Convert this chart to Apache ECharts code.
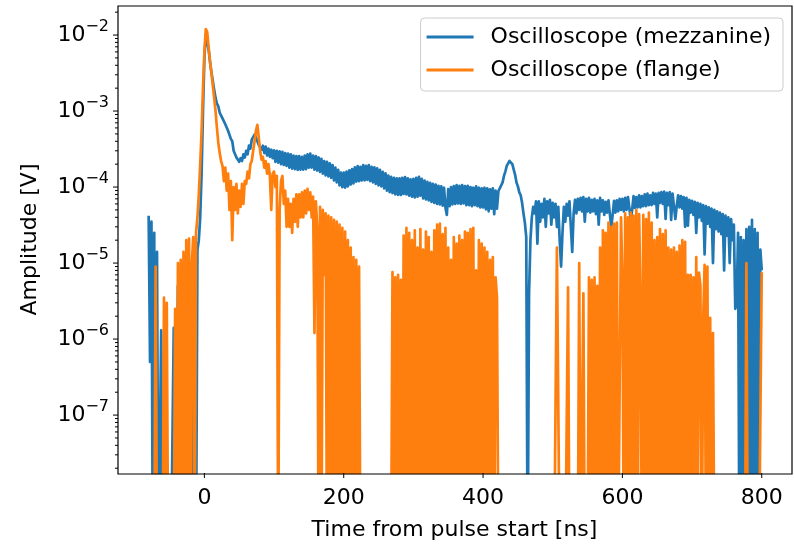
<!DOCTYPE html>
<html>
<head>
<meta charset="utf-8">
<title>Oscilloscope amplitude vs time</title>
<script src="https://cdn.jsdelivr.net/npm/echarts@6/dist/echarts.min.js"></script>
<style>
  html, body { margin: 0; padding: 0; background: #fff; }
  #chart { width: 794px; height: 546px; }
</style>
</head>
<body>
<div id="chart"></div>
<script>
// Sampling grid of both traces (ns)
const T_START = -80;
const T_STEP = 2;

// Amplitude below the visible floor (trace drops out of the log axis)
const Z = 1e-9;

// Oscilloscope trace, mezzanine pickup [V], one value per 2 ns from -80 ns
const mezzanine = [
  4.2e-5, 5e-7, 3.5e-5, Z, 2.5e-5, Z, 1.4e-5, Z, Z, 1.3e-6,
  Z, Z, Z, Z, Z, Z, Z, Z, 1.4e-6, Z,
  Z, 5e-6, Z, 3e-6, Z, 4e-6, Z, 6e-6, Z, 8e-6,
  Z, 1e-5, Z, 1.2e-5, Z, 1.5e-5, 2e-5, 4e-5, 1.5e-4, 1e-3,
  5e-3, 1e-2, 9.5e-3, 6.5e-3, 4.5e-3, 3.3e-3, 2.5e-3, 1.9e-3, 1.5e-3, 1.25e-3,
  1.15e-3, 9.5e-4, 9.6e-4, 8e-4, 8.2e-4, 6.7e-4, 6.8e-4, 5.5e-4, 5.5e-4, 4.3e-4,
  4e-4, 3e-4, 3e-4, 2.45e-4, 2.6e-4, 2.15e-4, 2.4e-4, 2.2e-4, 2.7e-4, 2.45e-4,
  3e-4, 2.7e-4, 3.5e-4, 3.2e-4, 4.2e-4, 4e-4, 4.9e-4, 4.5e-4, 4.5e-4, 3.6e-4,
  3.8e-4, 3.1e-4, 3.5e-4, 2.8e-4, 3.4e-4, 2.6e-4, 3.2e-4, 2.5e-4, 3.1e-4, 2.4e-4,
  3.05e-4, 2.15e-4, 3e-4, 2.1e-4, 2.95e-4, 2e-4, 2.9e-4, 1.95e-4, 2.8e-4, 1.9e-4,
  2.75e-4, 1.8e-4, 2.7e-4, 1.75e-4, 2.6e-4, 1.72e-4, 2.55e-4, 1.68e-4, 2.55e-4, 1.7e-4,
  2.5e-4, 1.7e-4, 2.6e-4, 1.72e-4, 2.7e-4, 1.8e-4, 2.75e-4, 1.8e-4, 2.6e-4, 1.7e-4,
  2.55e-4, 1.65e-4, 2.45e-4, 1.58e-4, 2.35e-4, 1.5e-4, 2.2e-4, 1.42e-4, 2.15e-4, 1.38e-4,
  2.05e-4, 1.32e-4, 1.95e-4, 1.22e-4, 1.8e-4, 1.15e-4, 1.68e-4, 1.05e-4, 1.55e-4, 1e-4,
  1.55e-4, 9.8e-5, 1.6e-4, 1.02e-4, 1.66e-4, 1.08e-4, 1.72e-4, 1.12e-4, 1.82e-4, 1.18e-4,
  1.88e-4, 1.2e-4, 1.85e-4, 1.22e-4, 1.95e-4, 1.22e-4, 1.9e-4, 1.24e-4, 1.95e-4, 1.2e-4,
  1.85e-4, 1.15e-4, 1.82e-4, 1.1e-4, 1.76e-4, 1.05e-4, 1.68e-4, 1.02e-4, 1.58e-4, 9.6e-5,
  1.52e-4, 9e-5, 1.42e-4, 8.6e-5, 1.36e-4, 8.3e-5, 1.32e-4, 8e-5, 1.3e-4, 7.9e-5,
  1.3e-4, 7.9e-5, 1.32e-4, 8.1e-5, 1.35e-4, 8e-5, 1.3e-4, 7.7e-5, 1.26e-4, 7.5e-5,
  1.28e-4, 7.3e-5, 1.32e-4, 7.5e-5, 1.36e-4, 7.7e-5, 1.28e-4, 7.1e-5, 1.22e-4, 6.9e-5,
  1.17e-4, 6.7e-5, 1.14e-4, 6.4e-5, 1.1e-4, 6.2e-5, 1.08e-4, 6e-5, 1.04e-4, 5.9e-5,
  1.02e-4, 5.7e-5, 9.8e-5, 5.4e-5, 4.3e-5, 9.4e-5, 5.6e-5, 1e-4, 5.9e-5, 1.03e-4,
  6e-5, 1.06e-4, 6.1e-5, 1.04e-4, 6e-5, 1.06e-4, 6.1e-5, 1.03e-4, 5.8e-5, 1.04e-4,
  5.8e-5, 1e-4, 5.6e-5, 9.8e-5, 5.8e-5, 1.02e-4, 5.6e-5, 9.8e-5, 5.4e-5, 9.6e-5,
  5.4e-5, 9.8e-5, 5.1e-5, 9.6e-5, 4.8e-5, 9.3e-5, 5.2e-5, 9.6e-5, 4.4e-5, 9e-5,
  5.2e-5, 8.8e-5, 8.5e-5, 1.05e-4, 1.15e-4, 1.4e-4, 1.6e-4, 1.9e-4, 2.05e-4, 2.2e-4,
  2.1e-4, 2e-4, 1.7e-4, 1.45e-4, 1.15e-4, 1.02e-4, 8.5e-5, 7.8e-5, 6.2e-5, 4.5e-5,
  3.4e-5, 2.2e-5, Z, 4e-6, 2e-5, 4e-5, 5.5e-5, 4.5e-5, 6.5e-5, 1.8e-5,
  6.5e-5, 3.5e-5, 6e-5, 4e-5, 7e-5, 3e-5, 6.5e-5, 4.5e-5, 6.8e-5, 3.2e-5,
  6.2e-5, 4e-5, 6e-5, 3e-5, 5.5e-5, 2e-5, 9e-6, 2.5e-5, 5.5e-5, 3.5e-5,
  6e-5, 4.2e-5, 6.5e-5, 3e-5, 1.4e-5, 4.5e-5, 6.8e-5, 4.5e-5, 7e-5, 5e-5,
  7.2e-5, 4.8e-5, 7.4e-5, 3.5e-5, 7e-5, 4.8e-5, 7.2e-5, 4.6e-5, 6.8e-5, 4.8e-5,
  7e-5, 4.4e-5, 6.7e-5, 3.2e-5, 7.2e-5, 4.8e-5, 6.7e-5, 4.3e-5, 6.4e-5, 4.6e-5,
  6.7e-5, 4.4e-5, 3e-5, 4.3e-5, 6.6e-5, 4.6e-5, 6.7e-5, 4.8e-5, 7e-5, 5e-5,
  7e-5, 4.8e-5, 7.2e-5, 5e-5, 7.4e-5, 5.3e-5, 3.6e-5, 5e-5, 7.6e-5, 5.3e-5,
  7.4e-5, 5.4e-5, 7.8e-5, 5.4e-5, 7.6e-5, 5.6e-5, 8e-5, 5.6e-5, 8.2e-5, 5.8e-5,
  7.8e-5, 5.8e-5, 8.4e-5, 6e-5, 8.2e-5, 4e-5, 8.4e-5, 6.2e-5, 8.6e-5, 6e-5,
  8.7e-5, 3.8e-5, 8.4e-5, 5.8e-5, 8.6e-5, 3.7e-5, 8.2e-5, 5.6e-5, 3.8e-5, 5.6e-5,
  7.8e-5, 5.4e-5, 7.6e-5, 5.2e-5, 7.4e-5, 3e-5, 7.2e-5, 3.1e-5, 6.8e-5, 4.6e-5,
  6.6e-5, 4.3e-5, 6.4e-5, 2.5e-5, 6.2e-5, 4e-5, 6e-5, 3.6e-5, 5.8e-5, 1.3e-5,
  5.6e-5, 3.3e-5, 5.4e-5, 3e-5, 5.2e-5, 1e-5, 5e-5, 2.8e-5, 4.8e-5, 2.6e-5,
  4.6e-5, 2.4e-5, 4.4e-5, 8e-6, 4.2e-5, 2.3e-5, 4e-5, 1e-5, 3.8e-5, 2e-5,
  3.2e-5, 2.5e-6, 3e-6, 2.5e-5, Z, 2.2e-5, Z, 2e-5, Z, 2.8e-5,
  Z, 3e-5, Z, 3.7e-5, Z, 2.8e-5, Z, 2.5e-5, Z, 1.5e-5,
  8e-6
];

// Oscilloscope trace, flange pickup [V], same sampling grid
const flange = [
  Z, Z, Z, Z, Z, 9e-6, Z, Z, Z, Z,
  Z, 3.5e-6, Z, 3e-6, Z, Z, Z, Z, Z, 2.5e-6,
  Z, 1e-5, Z, 1.1e-5, Z, 1.4e-5, Z, 2e-5, Z, 2.1e-5,
  Z, 1e-5, 2.2e-5, Z, 2.5e-5, 4e-5, 8e-5, 2e-4, 5.5e-4, 2e-3,
  6e-3, 1.2e-2, 1.1e-2, 7e-3, 4.5e-3, 3.2e-3, 2.2e-3, 1.5e-3, 1e-3, 6e-4,
  3.8e-4, 2.8e-4, 2.2e-4, 1.9e-4, 1.2e-4, 1.8e-4, 9e-5, 1.5e-4, 5e-5, 1.2e-4,
  2e-5, 1e-4, 5e-5, 1.1e-4, 4.5e-5, 9e-5, 5.5e-5, 1.1e-4, 6e-5, 1.2e-4,
  1.1e-4, 1.6e-4, 1.3e-4, 2e-4, 2.2e-4, 3e-4, 4e-4, 5.5e-4, 6.6e-4, 4.5e-4,
  3e-4, 2.3e-4, 2.5e-4, 1.8e-4, 2.2e-4, 1.5e-4, 2e-4, 1.4e-4, 5e-5, 1.5e-4,
  1.6e-4, 1e-4, 1.4e-4, Z, 5e-5, 1.2e-4, 1.4e-4, 6e-5, 9e-5, 3e-5,
  7e-5, 3e-5, 6e-5, 2.5e-5, 7e-5, 3.5e-5, 8e-5, 3e-5, 8e-5, 4e-5,
  8.5e-5, 4e-5, 9e-5, 4.5e-5, 9.5e-5, 5e-5, 8.5e-5, 4e-5, 7.5e-5, 1.2e-6,
  6.5e-5, 3e-5, Z, 5.5e-5, Z, 5e-5, 7e-6, 4.5e-5, Z, 4.2e-5,
  Z, 4e-5, Z, 3.7e-5, Z, 3.5e-5, Z, 3.2e-5, Z, 2.9e-5,
  Z, 2.6e-5, Z, 2e-5, Z, 1.6e-5, Z, 1.2e-5, Z, 1.1e-5,
  Z, 9e-6, Z, Z, Z, Z, Z, Z, Z, Z,
  Z, Z, Z, Z, Z, Z, Z, Z, Z, Z,
  Z, Z, Z, Z, Z, 7.6e-6, Z, 6.5e-6, Z, 7e-6,
  Z, 6e-6, Z, 2.3e-5, Z, 2.9e-5, Z, 2.5e-5, Z, 2e-5,
  Z, 2.7e-5, Z, 1.6e-5, Z, 2.8e-5, Z, 1.5e-5, Z, 2.6e-5,
  Z, 2.2e-5, Z, 1.4e-5, Z, 2.7e-5, Z, 3.2e-5, Z, 3.3e-5,
  Z, 2.4e-5, Z, 2.9e-5, Z, 1.6e-5, Z, 1.1e-5, Z, 2.2e-5,
  Z, 1.8e-5, Z, 2.3e-5, Z, 2e-5, Z, 2.6e-5, Z, 2.5e-5,
  Z, 2.8e-5, Z, 2.9e-5, Z, 8e-6, Z, 2e-5, Z, 1.8e-5,
  Z, 1.6e-5, Z, 1.4e-5, Z, 1.1e-5, Z, 1.2e-5, Z, 6.5e-6,
  3.5e-6, Z, Z, Z, Z, Z, Z, Z, Z, Z,
  Z, Z, Z, Z, Z, Z, Z, Z, Z, Z,
  Z, Z, Z, Z, Z, Z, Z, Z, Z, Z,
  Z, Z, Z, Z, Z, Z, Z, Z, Z, Z,
  Z, Z, Z, 1.6e-5, 1.2e-7, Z, Z, Z, Z, Z,
  Z, 4.8e-6, Z, Z, Z, Z, Z, Z, Z, 1e-5,
  Z, Z, 4e-6, Z, Z, Z, 6.5e-6, Z, 6e-6, Z,
  6.5e-6, Z, 5e-6, Z, 1.6e-5, Z, 2.7e-5, Z, 2.5e-5, Z,
  3.4e-5, Z, 3e-5, Z, 3.3e-5, Z, 3.4e-5, Z, Z, 4e-5,
  7e-6, Z, 4.5e-5, Z, 4e-5, Z, 4.6e-5, Z, 4.2e-5, Z,
  5e-5, Z, 4.4e-5, 3.5e-6, Z, 4.3e-5, Z, 3.8e-5, Z, 4.6e-5,
  Z, 3.4e-5, Z, 2e-5, Z, 2.2e-5, Z, 2.8e-5, Z, 2.4e-5,
  Z, 2.7e-5, Z, 1.6e-5, Z, 1.5e-5, Z, 1.6e-5, Z, 1.4e-5,
  Z, 1.7e-5, Z, 2e-5, Z, 1.9e-5, Z, 7e-6, Z, 7e-6,
  Z, 6.5e-6, Z, 1.2e-5, Z, 7.5e-6, 5e-6, Z, 1.9e-6, 9.5e-6,
  Z, 9e-6, Z, 1.9e-6, Z, 1.2e-6, Z, Z, Z, Z,
  Z, Z, Z, Z, Z, Z, Z, Z, Z, Z,
  Z, Z, Z, Z, Z, Z, Z, Z, Z, 1e-5,
  Z, Z, Z, Z, Z, Z, Z, Z, Z, Z,
  7.6e-6
];

const seriesNames = ['Oscilloscope (mezzanine)', 'Oscilloscope (flange)'];
const seriesColors = ['#1f77b4', '#ff7f0e'];

// Axis ranges and tick labels
const X_MIN = -124, X_MAX = 842;
const Y_MIN = 1.73e-8, Y_MAX = 0.0241;
const xTickValues = [0, 200, 400, 600, 800];
const yTickValues = [1e-7, 1e-6, 1e-5, 1e-4, 1e-3, 1e-2];

const FONT = 'DejaVu Sans';
const LINE_WIDTH = 2.7;

function toPairs(values) {
  return values.map((v, i) => [T_START + i * T_STEP, v]);
}

// Tick marks: major decades plus 2..9 minor marks on the log axis
const yTickMarks = [];
for (let d = -9; d <= -1; d++) {
  for (let k = 1; k <= 9; k++) {
    const v = k * Math.pow(10, d);
    if (v >= Y_MIN && v <= Y_MAX) yTickMarks.push([X_MIN, v, k === 1 ? 1 : 0]);
  }
}
const xTickMarks = xTickValues.map(t => [t, Y_MIN, 1]);

function isDecade(v) {
  const e = Math.log10(v);
  return Math.abs(e - Math.round(e)) < 1e-6;
}

const chart = echarts.init(document.getElementById('chart'), null, { renderer: 'canvas' });

chart.setOption({
  animation: false,
  backgroundColor: '#ffffff',
  textStyle: { fontFamily: FONT, color: '#000' },
  grid: { left: 118, top: 6, right: 2, bottom: 72, containLabel: false },
  legend: {
    data: seriesNames,
    orient: 'vertical',
    right: 11,
    top: 18,
    padding: [8, 12, 10, 6],
    itemGap: 11,
    itemWidth: 47,
    itemHeight: 3,
    icon: 'rect',
    backgroundColor: 'rgba(255,255,255,0.8)',
    borderColor: '#cccccc',
    borderWidth: 1,
    borderRadius: 4,
    textStyle: { fontFamily: FONT, fontSize: 22, color: '#000', lineHeight: 22, padding: [0, 0, 0, 12] }
  },
  xAxis: {
    type: 'value',
    min: X_MIN,
    max: X_MAX,
    name: 'Time from pulse start [ns]',
    nameLocation: 'middle',
    nameGap: 46,
    nameTextStyle: { fontFamily: FONT, fontSize: 22, color: '#000' },
    axisLine: { show: false },
    axisTick: { show: false },
    splitLine: { show: false },
    axisLabel: {
      fontFamily: FONT, fontSize: 22, color: '#000', margin: 14,
      formatter: v => (xTickValues.indexOf(v) >= 0 ? String(v) : '')
    }
  },
  yAxis: {
    type: 'log',
    logBase: 10,
    min: Y_MIN,
    max: Y_MAX,
    name: 'Amplitude [V]',
    nameLocation: 'middle',
    nameGap: 77,
    nameTextStyle: { fontFamily: FONT, fontSize: 22, color: '#000' },
    axisLine: { show: false },
    axisTick: { show: false },
    splitLine: { show: false },
    axisLabel: {
      fontFamily: FONT, fontSize: 22, color: '#000', margin: 9,
      formatter: function (v) {
        if (!isDecade(v)) return '';
        const k = Math.round(Math.log10(v));
        const shown = yTickValues.some(t => Math.abs(Math.log10(t) - k) < 1e-6);
        if (!shown) return '';
        return '10{e|\u2212' + Math.abs(k) + '}';
      },
      rich: {
        e: { fontFamily: FONT, fontSize: 16, color: '#000', padding: [0, 0, 16, 0] }
      }
    }
  },
  series: [
    {
      name: seriesNames[0],
      type: 'line',
      data: toPairs(mezzanine),
      showSymbol: false,
      symbol: 'none',
      sampling: null,
      color: seriesColors[0],
      lineStyle: { width: LINE_WIDTH, color: seriesColors[0], join: 'round', cap: 'butt' },
      z: 2
    },
    {
      name: seriesNames[1],
      type: 'line',
      data: toPairs(flange),
      showSymbol: false,
      symbol: 'none',
      sampling: null,
      color: seriesColors[1],
      lineStyle: { width: LINE_WIDTH, color: seriesColors[1], join: 'round', cap: 'butt' },
      z: 3
    },
    {
      type: 'custom',
      silent: true,
      clip: false,
      data: yTickMarks,
      renderItem: function (params, api) {
        const p = api.coord([api.value(0), api.value(1)]);
        const len = api.value(2) ? 5 : 3;
        return {
          type: 'line',
          shape: { x1: p[0] - len, y1: p[1], x2: p[0], y2: p[1] },
          style: { stroke: '#000', lineWidth: 1 }
        };
      },
      z: 10
    },
    {
      type: 'custom',
      silent: true,
      clip: false,
      data: xTickMarks,
      renderItem: function (params, api) {
        const p = api.coord([api.value(0), api.value(1)]);
        return {
          type: 'line',
          shape: { x1: p[0], y1: p[1], x2: p[0], y2: p[1] + 5 },
          style: { stroke: '#000', lineWidth: 1 }
        };
      },
      z: 10
    }
  ],
  graphic: [
    {
      type: 'rect',
      silent: true,
      z: 100,
      shape: { x: 118, y: 6, width: 674, height: 468 },
      style: { fill: 'none', stroke: '#000', lineWidth: 1.2 }
    }
  ]
});
</script>
</body>
</html>
